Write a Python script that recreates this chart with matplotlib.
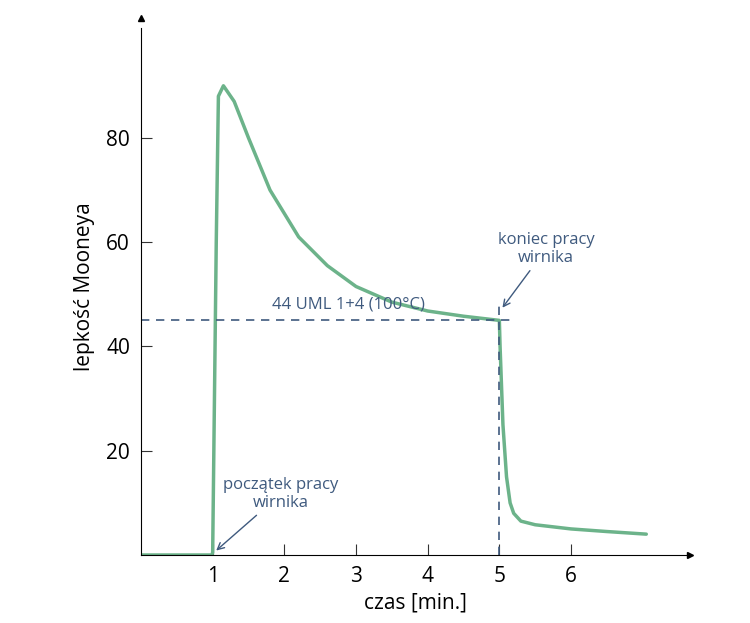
import matplotlib
matplotlib.use("Agg")
import matplotlib.pyplot as plt

czas = [0, 0.99, 1.0, 1.05, 1.08, 1.15, 1.3, 1.5, 1.8, 2.2, 2.6, 3.0, 3.5, 4.0, 4.5, 5.0,
        5.01, 5.05, 5.1, 5.15, 5.2, 5.3, 5.5, 6.0, 6.5, 7.05]
lepkosc = [0, 0, 0.5, 60, 88, 90, 87, 80, 70, 61, 55.5, 51.5, 48.5, 46.8, 45.8, 45,
           40, 25, 15, 10, 8, 6.5, 5.8, 5, 4.5, 4]
xticks = [1, 2, 3, 4, 5, 6]
yticks = [20, 40, 60, 80]
uml = 45

plt.rcParams['font.family'] = ['Open Sans', 'DejaVu Sans']
fig = plt.figure(figsize=(7.5, 6.23), dpi=100)
ax = fig.add_axes([141/750, 1-555/623, (690-141)/750, (555-18)/623])
green = '#6cb38a'
navy = '#3f5a7e'
ax.plot(czas, lepkosc, color=green, lw=2.5, solid_capstyle='round')
ax.plot([0, 5.2], [uml, uml], color=navy, lw=1.2, ls=(0, (5, 4)))
ax.plot([5, 5], [0, 48], color=navy, lw=1.2, ls=(0, (5, 4)))
ax.set_xlim(0, 7.66)
ax.set_ylim(0, 103)
for s in ['top', 'right']:
    ax.spines[s].set_visible(False)
ax.spines['left'].set_bounds(0, 101)
ax.spines['bottom'].set_bounds(0, 7.6)
ax.plot(7.66, 0, '>k', ms=5, clip_on=False)
ax.plot(0, 103, '^k', ms=5, clip_on=False)
ax.set_xticks(xticks)
ax.set_yticks(yticks)
ax.tick_params(labelsize=15, direction='in', length=8, pad=8, color='#333333')
ax.set_xlabel('czas [min.]', fontsize=15, labelpad=4)
ax.set_ylabel('lepkość Mooneya', fontsize=15, labelpad=8)
ax.text(2.9, 46.5, '44 UML 1+4 (100°C)', color=navy, fontsize=12, ha='center', va='bottom')
ax.annotate('koniec pracy\nwirnika', xy=(5.02, 47), xytext=(5.65, 55.5), color=navy,
            fontsize=12, ha='center', va='bottom', linespacing=1.1,
            arrowprops=dict(arrowstyle='->', color=navy, lw=1))
ax.annotate('początek pracy\nwirnika', xy=(1.02, 0.5), xytext=(1.95, 8.5), color=navy,
            fontsize=12, ha='center', va='bottom', linespacing=1.1,
            arrowprops=dict(arrowstyle='->', color=navy, lw=1))
fig.savefig('out.png', dpi=100)
